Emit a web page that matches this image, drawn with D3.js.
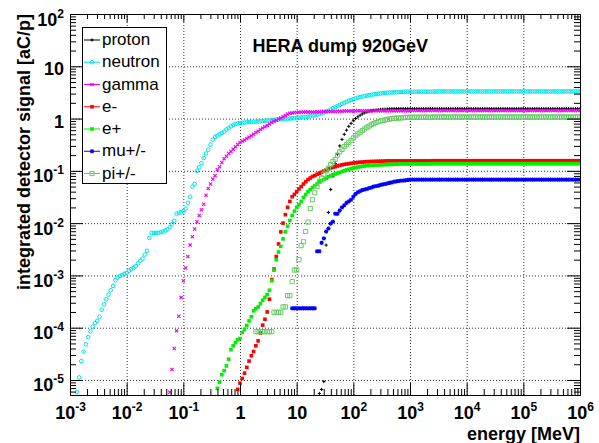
<!DOCTYPE html>
<html>
<head>
<meta charset="utf-8">
<script src="https://cdn.jsdelivr.net/npm/d3@7"></script>
<style>
  body { margin: 0; background: #ffffff; }
  #chart svg { display: block; font-family: "Liberation Sans", Arial, Helvetica, sans-serif; }
</style>
</head>
<body>
<div id="chart"></div>
<script>
// energy bins [MeV], 25 per decade
const energyMeV = [
  1.000e-3,1.096e-3,1.202e-3,1.318e-3,1.445e-3,1.585e-3,1.738e-3,1.905e-3,2.089e-3,2.291e-3,2.512e-3,2.754e-3,3.020e-3,3.311e-3,3.631e-3,3.981e-3,4.365e-3,4.786e-3,5.248e-3,5.754e-3,6.310e-3,6.918e-3,7.586e-3,8.318e-3,9.120e-3,
  1.000e-2,1.096e-2,1.202e-2,1.318e-2,1.445e-2,1.585e-2,1.738e-2,1.905e-2,2.089e-2,2.291e-2,2.512e-2,2.754e-2,3.020e-2,3.311e-2,3.631e-2,3.981e-2,4.365e-2,4.786e-2,5.248e-2,5.754e-2,6.310e-2,6.918e-2,7.586e-2,8.318e-2,9.120e-2,
  1.000e-1,1.096e-1,1.202e-1,1.318e-1,1.445e-1,1.585e-1,1.738e-1,1.905e-1,2.089e-1,2.291e-1,2.512e-1,2.754e-1,3.020e-1,3.311e-1,3.631e-1,3.981e-1,4.365e-1,4.786e-1,5.248e-1,5.754e-1,6.310e-1,6.918e-1,7.586e-1,8.318e-1,9.120e-1,
  1.000e0,1.096e0,1.202e0,1.318e0,1.445e0,1.585e0,1.738e0,1.905e0,2.089e0,2.291e0,2.512e0,2.754e0,3.020e0,3.311e0,3.631e0,3.981e0,4.365e0,4.786e0,5.248e0,5.754e0,6.310e0,6.918e0,7.586e0,8.318e0,9.120e0,
  1.000e1,1.096e1,1.202e1,1.318e1,1.445e1,1.585e1,1.738e1,1.905e1,2.089e1,2.291e1,2.512e1,2.754e1,3.020e1,3.311e1,3.631e1,3.981e1,4.365e1,4.786e1,5.248e1,5.754e1,6.310e1,6.918e1,7.586e1,8.318e1,9.120e1,
  1.000e2,1.096e2,1.202e2,1.318e2,1.445e2,1.585e2,1.738e2,1.905e2,2.089e2,2.291e2,2.512e2,2.754e2,3.020e2,3.311e2,3.631e2,3.981e2,4.365e2,4.786e2,5.248e2,5.754e2,6.310e2,6.918e2,7.586e2,8.318e2,9.120e2,
  1.000e3,1.096e3,1.202e3,1.318e3,1.445e3,1.585e3,1.738e3,1.905e3,2.089e3,2.291e3,2.512e3,2.754e3,3.020e3,3.311e3,3.631e3,3.981e3,4.365e3,4.786e3,5.248e3,5.754e3,6.310e3,6.918e3,7.586e3,8.318e3,9.120e3,
  1.000e4,1.096e4,1.202e4,1.318e4,1.445e4,1.585e4,1.738e4,1.905e4,2.089e4,2.291e4,2.512e4,2.754e4,3.020e4,3.311e4,3.631e4,3.981e4,4.365e4,4.786e4,5.248e4,5.754e4,6.310e4,6.918e4,7.586e4,8.318e4,9.120e4,
  1.000e5,1.096e5,1.202e5,1.318e5,1.445e5,1.585e5,1.738e5,1.905e5,2.089e5,2.291e5,2.512e5,2.754e5,3.020e5,3.311e5,3.631e5,3.981e5,4.365e5,4.786e5,5.248e5,5.754e5,6.310e5,6.918e5,7.586e5,8.318e5,9.120e5,
  1.000e6
];

// integrated detector signal [aC/p]; the first value of each list sits at energyMeV[start]
const protonStart = 110;
const proton = [
  5.5e-6, 6.6e-6, 9.3e-6, 3.8e-3, 1.6e-2, 4.4e-2, 7.9e-2, 0.138, 0.21, 0.30,
  0.40, 0.50, 0.60, 0.71, 0.81, 0.91, 1.0, 1.08, 1.16, 1.23,
  1.29, 1.33, 1.38, 1.41, 1.44, 1.46, 1.48, 1.50, 1.51, 1.51,
  1.52, 1.53, 1.54, 1.55, 1.55, 1.55, 1.55, 1.55, 1.55, 1.55,
  1.55, 1.55, 1.55, 1.55, 1.55, 1.55, 1.55, 1.55, 1.55, 1.55,
  1.55, 1.55, 1.55, 1.55, 1.55, 1.55, 1.55, 1.55, 1.55, 1.55,
  1.55, 1.55, 1.55, 1.55, 1.55, 1.55, 1.55, 1.55, 1.55, 1.55,
  1.55, 1.55, 1.55, 1.55, 1.55, 1.55, 1.55, 1.55, 1.55, 1.55,
  1.55, 1.55, 1.55, 1.55, 1.55, 1.55, 1.55, 1.55, 1.55, 1.55,
  1.55, 1.55, 1.55, 1.55, 1.55, 1.55, 1.55, 1.55, 1.55, 1.55,
  1.55, 1.55, 1.55, 1.55, 1.55, 1.55, 1.55, 1.55, 1.55, 1.55,
  1.55, 1.55, 1.55, 1.55, 1.55, 1.55
];

const neutronStart = 3;
const neutron = [
  5.9e-6, 1.12e-5, 2.3e-5, 3.5e-5, 4.8e-5, 6.6e-5, 8.5e-5,
  1.05e-4, 1.23e-4, 1.35e-4, 1.62e-4, 2.2e-4, 2.8e-4, 3.5e-4, 4.3e-4, 5.2e-4, 6.3e-4,
  8.1e-4, 9.1e-4, 9.8e-4, 1.02e-3, 1.07e-3, 1.12e-3, 1.23e-3, 1.32e-3, 1.38e-3, 1.51e-3,
  1.70e-3, 1.91e-3, 2.1e-3, 2.5e-3, 2.95e-3, 5.2e-3, 6.5e-3, 6.5e-3, 6.5e-3, 6.5e-3,
  6.7e-3, 6.9e-3, 7.2e-3, 7.6e-3, 8.3e-3, 9.5e-3, 1.1e-2, 1.51e-2, 1.58e-2, 1.62e-2,
  1.70e-2, 1.9e-2, 2.45e-2, 3.2e-2, 5.0e-2, 5.6e-2, 0.10, 0.117, 0.141, 0.176,
  0.214, 0.254, 0.316, 0.394, 0.447, 0.468, 0.50, 0.53, 0.56, 0.62,
  0.66, 0.71, 0.75, 0.79, 0.81, 0.82, 0.83, 0.84, 0.85, 0.86,
  0.867, 0.87, 0.877, 0.88, 0.887, 0.90, 0.91, 0.917, 0.92, 0.93,
  0.94, 0.955, 0.96, 0.97, 0.98, 0.985, 0.99, 1.0, 1.01, 1.02,
  1.02, 1.035, 1.05, 1.06, 1.07, 1.09, 1.11, 1.135, 1.16, 1.19,
  1.23, 1.26, 1.30, 1.35, 1.41, 1.48, 1.58, 1.65, 1.73, 1.82,
  1.91, 2.0, 2.09, 2.19, 2.26, 2.34, 2.43, 2.51, 2.57, 2.63,
  2.69, 2.75, 2.8, 2.85, 2.9, 2.94, 2.98, 3.02, 3.05, 3.09,
  3.12, 3.14, 3.16, 3.18, 3.2, 3.22, 3.24, 3.25, 3.26, 3.27,
  3.27, 3.27, 3.27, 3.27, 3.27, 3.27, 3.27, 3.27, 3.27, 3.27,
  3.28, 3.28, 3.29, 3.29, 3.3, 3.3, 3.3, 3.3, 3.3, 3.3,
  3.3, 3.3, 3.3, 3.3, 3.3, 3.3, 3.3, 3.3, 3.3, 3.3,
  3.3, 3.3, 3.3, 3.3, 3.3, 3.3, 3.3, 3.3, 3.3, 3.3,
  3.3, 3.3, 3.3, 3.3, 3.3, 3.3, 3.3, 3.3, 3.3, 3.3,
  3.3, 3.3, 3.3, 3.3, 3.3, 3.3, 3.3, 3.3, 3.3, 3.3,
  3.3, 3.3, 3.3, 3.3, 3.3, 3.3, 3.3, 3.3, 3.3, 3.3,
  3.3, 3.3, 3.3, 3.3, 3.3, 3.3
];

const gammaStart = 44;
const gamma = [
  5.8e-6, 1.58e-5, 4.0e-5, 8.7e-5, 1.66e-4, 3.8e-4,
  7.9e-4, 1.39e-3, 2.3e-3, 3.8e-3, 5.5e-3, 7.7e-3, 1.06e-2, 1.4e-2, 1.8e-2, 2.3e-2,
  3.4e-2, 4.6e-2, 5.6e-2, 6.9e-2, 8.1e-2, 0.105, 0.12, 0.145, 0.17, 0.19,
  0.214, 0.234, 0.26, 0.29, 0.32, 0.347, 0.37, 0.39, 0.417, 0.44,
  0.47, 0.50, 0.54, 0.575, 0.62, 0.66, 0.70, 0.74, 0.79, 0.84,
  0.89, 0.93, 0.98, 1.02, 1.08, 1.15, 1.22, 1.26, 1.28, 1.30,
  1.31, 1.32, 1.32, 1.33, 1.33, 1.33, 1.34, 1.34, 1.34, 1.35,
  1.35, 1.35, 1.36, 1.36, 1.36, 1.37, 1.37, 1.37, 1.38, 1.38,
  1.38, 1.39, 1.39, 1.39, 1.40, 1.40, 1.41, 1.41, 1.41, 1.41,
  1.41, 1.41, 1.41, 1.41, 1.41, 1.41, 1.41, 1.41, 1.41, 1.41,
  1.41, 1.41, 1.41, 1.41, 1.41, 1.41, 1.41, 1.41, 1.41, 1.41,
  1.42, 1.42, 1.42, 1.42, 1.42, 1.42, 1.42, 1.42, 1.42, 1.42,
  1.42, 1.42, 1.42, 1.42, 1.42, 1.42, 1.42, 1.42, 1.42, 1.42,
  1.42, 1.42, 1.42, 1.42, 1.42, 1.42, 1.42, 1.42, 1.42, 1.42,
  1.42, 1.42, 1.42, 1.42, 1.42, 1.42, 1.42, 1.42, 1.42, 1.42,
  1.42, 1.42, 1.42, 1.42, 1.42, 1.42, 1.42, 1.42, 1.42, 1.42,
  1.42, 1.42, 1.42, 1.42, 1.42, 1.42, 1.42, 1.42, 1.42, 1.42,
  1.42, 1.42, 1.42, 1.42, 1.42, 1.42, 1.42, 1.42, 1.42, 1.42,
  1.42, 1.42, 1.42, 1.42, 1.42, 1.42
];

const electronStart = 74;
const electron = [
  6.6e-6, 8.7e-6, 1.07e-5, 1.35e-5, 1.74e-5, 2.3e-5,
  2.9e-5, 3.5e-5, 4.5e-5, 5.6e-5, 7.9e-5, 1.12e-4, 1.45e-4, 2.0e-4, 3.5e-4, 8.3e-4,
  1.32e-3, 2.3e-3, 4.0e-3, 6.8e-3, 1.0e-2, 1.45e-2, 2.0e-2, 2.6e-2, 3.2e-2, 3.55e-2,
  4.0e-2, 4.5e-2, 5.0e-2, 5.6e-2, 6.2e-2, 6.8e-2, 7.3e-2, 7.8e-2, 8.1e-2, 8.6e-2,
  9.0e-2, 9.4e-2, 9.9e-2, 0.104, 0.108, 0.114, 0.117, 0.12, 0.124, 0.127,
  0.13, 0.133, 0.135, 0.137, 0.139, 0.141, 0.143, 0.145, 0.146, 0.147,
  0.149, 0.15, 0.15, 0.151, 0.151, 0.152, 0.152, 0.153, 0.153, 0.154,
  0.155, 0.155, 0.155, 0.155, 0.155, 0.155, 0.155, 0.155, 0.155, 0.155,
  0.155, 0.155, 0.155, 0.155, 0.155, 0.155, 0.155, 0.155, 0.155, 0.155,
  0.156, 0.156, 0.156, 0.156, 0.156, 0.156, 0.156, 0.156, 0.156, 0.156,
  0.156, 0.156, 0.156, 0.156, 0.156, 0.156, 0.156, 0.156, 0.156, 0.156,
  0.156, 0.156, 0.156, 0.156, 0.156, 0.156, 0.156, 0.156, 0.156, 0.156,
  0.156, 0.156, 0.156, 0.156, 0.156, 0.156, 0.156, 0.156, 0.156, 0.156,
  0.156, 0.156, 0.156, 0.156, 0.156, 0.156, 0.156, 0.156, 0.156, 0.156,
  0.156, 0.156, 0.156, 0.156, 0.156, 0.156, 0.156, 0.156, 0.156, 0.156,
  0.156, 0.156, 0.156, 0.156, 0.156, 0.156
];

const positronStart = 65;
const positron = [
  6.9e-6, 9.1e-6, 1.26e-5, 1.51e-5, 1.86e-5,
  2.5e-5, 3.8e-5, 4.5e-5, 5.2e-5, 5.9e-5, 6.2e-5, 8.1e-5, 9.3e-5, 1.1e-4, 1.35e-4,
  1.62e-4, 2.1e-4, 2.3e-4, 2.5e-4, 2.9e-4, 3.35e-4, 3.8e-4, 4.3e-4, 5.2e-4, 7.9e-4,
  1.26e-3, 2.0e-3, 2.8e-3, 3.6e-3, 5.0e-3, 6.8e-3, 8.7e-3, 1.12e-2, 1.41e-2, 1.7e-2,
  2.0e-2, 2.24e-2, 2.6e-2, 3.1e-2, 3.5e-2, 4.0e-2, 4.4e-2, 4.8e-2, 5.2e-2, 5.6e-2,
  6.2e-2, 6.5e-2, 6.8e-2, 7.2e-2, 7.7e-2, 8.0e-2, 8.4e-2, 8.7e-2, 9.0e-2, 9.3e-2,
  9.7e-2, 0.10, 0.104, 0.107, 0.11, 0.113, 0.116, 0.118, 0.12, 0.122,
  0.124, 0.126, 0.127, 0.128, 0.128, 0.129, 0.129, 0.130, 0.131, 0.132,
  0.132, 0.133, 0.133, 0.134, 0.134, 0.135, 0.136, 0.136, 0.136, 0.136,
  0.136, 0.136, 0.136, 0.136, 0.136, 0.136, 0.136, 0.136, 0.136, 0.136,
  0.137, 0.137, 0.137, 0.137, 0.137, 0.137, 0.137, 0.137, 0.137, 0.137,
  0.137, 0.137, 0.137, 0.137, 0.137, 0.137, 0.137, 0.137, 0.137, 0.137,
  0.137, 0.137, 0.137, 0.137, 0.137, 0.137, 0.137, 0.137, 0.137, 0.137,
  0.137, 0.137, 0.137, 0.137, 0.137, 0.137, 0.137, 0.137, 0.137, 0.137,
  0.137, 0.137, 0.137, 0.137, 0.137, 0.137, 0.137, 0.137, 0.137, 0.137,
  0.137, 0.137, 0.137, 0.137, 0.137, 0.137, 0.137, 0.137, 0.137, 0.137,
  0.137, 0.137, 0.137, 0.137, 0.137, 0.137
];

const muonStart = 98;
const muon = [
  2.35e-4, 2.35e-4,
  2.35e-4, 2.35e-4, 2.35e-4, 2.35e-4, 2.35e-4, 2.35e-4, 2.35e-4, 2.35e-4, 2.35e-4, 2.9e-3,
  2.9e-3, 4.2e-3, 5.1e-3, 6.9e-3, 7.9e-3, 9.8e-3, 1.07e-2, 1.51e-2, 1.51e-2, 1.74e-2,
  2.0e-2, 2.2e-2, 2.45e-2, 2.6e-2, 2.8e-2, 3.2e-2, 3.6e-2, 3.9e-2, 4.1e-2, 4.3e-2,
  4.4e-2, 4.5e-2, 4.7e-2, 4.8e-2, 5.0e-2, 5.1e-2, 5.2e-2, 5.4e-2, 5.5e-2, 5.6e-2,
  5.75e-2, 5.9e-2, 6.0e-2, 6.2e-2, 6.3e-2, 6.4e-2, 6.5e-2, 6.5e-2, 6.6e-2, 6.7e-2,
  6.8e-2, 6.8e-2, 6.8e-2, 6.8e-2, 6.8e-2, 6.8e-2, 6.8e-2, 6.8e-2, 6.8e-2, 6.8e-2,
  6.8e-2, 6.8e-2, 6.8e-2, 6.8e-2, 6.8e-2, 6.8e-2, 6.8e-2, 6.8e-2, 6.8e-2, 6.8e-2,
  6.8e-2, 6.8e-2, 6.8e-2, 6.8e-2, 6.8e-2, 6.8e-2, 6.8e-2, 6.8e-2, 6.8e-2, 6.8e-2,
  6.8e-2, 6.8e-2, 6.8e-2, 6.8e-2, 6.8e-2, 6.8e-2, 6.8e-2, 6.8e-2, 6.8e-2, 6.8e-2,
  6.8e-2, 6.8e-2, 6.8e-2, 6.8e-2, 6.8e-2, 6.8e-2, 6.8e-2, 6.8e-2, 6.8e-2, 6.8e-2,
  6.8e-2, 6.8e-2, 6.8e-2, 6.8e-2, 6.8e-2, 6.8e-2, 6.8e-2, 6.8e-2, 6.8e-2, 6.8e-2,
  6.8e-2, 6.8e-2, 6.8e-2, 6.8e-2, 6.8e-2, 6.8e-2, 6.8e-2, 6.8e-2, 6.8e-2, 6.8e-2,
  6.8e-2, 6.8e-2, 6.8e-2, 6.8e-2, 6.8e-2, 6.8e-2
];

const pionStart = 82;
const pion = [
  8.4e-5, 8.4e-5, 8.4e-5, 8.4e-5, 8.4e-5, 8.4e-5, 8.4e-5, 8.4e-5,
  1.97e-4, 1.97e-4, 1.97e-4, 1.97e-4, 2.5e-4, 2.5e-4, 4.1e-4, 4.1e-4, 7.6e-4, 1.27e-3,
  1.27e-3, 2.0e-3, 3.7e-3, 4.4e-3, 6.9e-3, 1.05e-2, 1.9e-2, 2.8e-2, 3.8e-2, 5.0e-2,
  6.3e-2, 7.2e-2, 8.7e-2, 0.10, 0.113, 0.132, 0.151, 0.166, 0.20, 0.23,
  0.257, 0.29, 0.316, 0.35, 0.38, 0.427, 0.47, 0.51, 0.55, 0.59,
  0.63, 0.68, 0.72, 0.77, 0.80, 0.84, 0.87, 0.90, 0.92, 0.94,
  0.965, 0.98, 1.0, 1.01, 1.02, 1.02, 1.03, 1.04, 1.05, 1.05,
  1.06, 1.06, 1.06, 1.06, 1.06, 1.06, 1.06, 1.06, 1.06, 1.06,
  1.07, 1.07, 1.07, 1.07, 1.07, 1.07, 1.07, 1.07, 1.07, 1.07,
  1.07, 1.07, 1.07, 1.07, 1.07, 1.07, 1.07, 1.07, 1.07, 1.07,
  1.07, 1.07, 1.07, 1.07, 1.07, 1.07, 1.07, 1.07, 1.07, 1.07,
  1.07, 1.07, 1.07, 1.07, 1.07, 1.07, 1.07, 1.07, 1.07, 1.07,
  1.07, 1.07, 1.07, 1.07, 1.07, 1.07, 1.07, 1.07, 1.07, 1.07,
  1.07, 1.07, 1.07, 1.07, 1.07, 1.07, 1.07, 1.07, 1.07, 1.07,
  1.07, 1.07, 1.07, 1.07, 1.07, 1.07
];

const seriesNames = ["proton", "neutron", "gamma", "e-", "e+", "mu+/-", "pi+/-"];
const xTickExp = [-3, -2, -1, 0, 1, 2, 3, 4, 5, 6];
const yTickExp = [-5, -4, -3, -2, -1, 0, 1, 2];
const yMin = 5.16e-6, yMax = 1e2;

// ---------------------------------------------------------------
const W = 599, H = 443;
const frame = {left: 70, right: 580, top: 14, bottom: 395};

const svg = d3.select("#chart").append("svg")
    .attr("width", W)
    .attr("height", H);
svg.append("rect").attr("width", W).attr("height", H).attr("fill", "#ffffff");

const x = d3.scaleLog().domain([1e-3, 1e6]).range([frame.left, frame.right]);
const y = d3.scaleLog().domain([yMin, yMax]).range([frame.bottom, frame.top]);

const isDecade = v => Math.abs(Math.log10(v) - Math.round(Math.log10(v))) < 1e-6;
const xMajor = x.ticks().filter(isDecade), xMinor = x.ticks().filter(v => !isDecade(v));
const yMajor = y.ticks().filter(isDecade), yMinor = y.ticks().filter(v => !isDecade(v));

// dotted grid on the decades
svg.append("g")
    .attr("transform", "translate(0," + frame.bottom + ")")
    .call(d3.axisBottom(x)
        .tickValues(xMajor.filter(v => x(v) > frame.left + 1 && x(v) < frame.right - 1))
        .tickSize(-(frame.bottom - frame.top)).tickFormat(""))
    .call(g => g.select(".domain").remove())
    .selectAll("line").attr("stroke", "#333").attr("stroke-dasharray", "1,2");
svg.append("g")
    .attr("transform", "translate(" + frame.left + ",0)")
    .call(d3.axisLeft(y)
        .tickValues(yMajor.filter(v => y(v) > frame.top + 1 && y(v) < frame.bottom - 1))
        .tickSize(-(frame.right - frame.left)).tickFormat(""))
    .call(g => g.select(".domain").remove())
    .selectAll("line").attr("stroke", "#333").attr("stroke-dasharray", "1,2");

// markers
const mCircle = { draw(c, s) { const r = Math.sqrt(s); c.moveTo(r, 0); c.arc(0, 0, r, 0, 2 * Math.PI); } };
const mSquare = { draw(c, s) { const r = Math.sqrt(s); c.rect(-r, -r, 2 * r, 2 * r); } };
const mPlus = { draw(c, s) { const r = Math.sqrt(s); c.moveTo(-r, 0); c.lineTo(r, 0); c.moveTo(0, -r); c.lineTo(0, r); } };
const mStar = { draw(c, s) {
    const r = Math.sqrt(s), d = r * 0.75;
    c.moveTo(-r, 0); c.lineTo(r, 0); c.moveTo(0, -r); c.lineTo(0, r);
    c.moveTo(-d, -d); c.lineTo(d, d); c.moveTo(-d, d); c.lineTo(d, -d);
} };
const mTimes = { draw(c, s) { const r = Math.sqrt(s); c.moveTo(-r, -r); c.lineTo(r, r); c.moveTo(-r, r); c.lineTo(r, -r); } };

const series = [
    {start: protonStart,   values: proton,   color: "#000000", type: mPlus,   size: 2.6, fill: false, sw: 1},
    {start: neutronStart,  values: neutron,  color: "#00e4e4", type: mCircle, size: 3.3, fill: false, sw: 1},
    {start: gammaStart,    values: gamma,    color: "#f000f0", type: mTimes,  size: 2.6, fill: false, sw: 1.1},
    {start: electronStart, values: electron, color: "#ff0000", type: mSquare, size: 3.3, fill: true,  sw: 0},
    {start: positronStart, values: positron, color: "#00ee00", type: mSquare, size: 3.3, fill: true,  sw: 0},
    {start: muonStart,     values: muon,     color: "#0000ff", type: mStar,   size: 4.4, fill: false, sw: 1.1},
    {start: pionStart,     values: pion,     color: "#66cc66", type: mSquare, size: 4.4, fill: false, sw: 1}
];
series.forEach((s, i) => s.name = seriesNames[i]);

svg.append("defs").append("clipPath").attr("id", "frame-clip")
    .append("rect")
    .attr("x", frame.left).attr("y", frame.top)
    .attr("width", frame.right - frame.left + 1).attr("height", frame.bottom - frame.top + 1);

const plot = svg.append("g").attr("clip-path", "url(#frame-clip)");
series.forEach(function(s) {
    const pts = s.values
        .map((v, i) => ({e: energyMeV[s.start + i], v: v}))
        .filter(d => d.e !== undefined && d.v >= yMin);
    plot.append("g").selectAll("path")
        .data(pts)
        .join("path")
        .attr("transform", d => "translate(" + x(d.e) + "," + y(d.v) + ")")
        .attr("d", d3.symbol().type(s.type).size(s.size))
        .attr("fill", s.fill ? s.color : "none")
        .attr("stroke", s.fill ? "none" : s.color)
        .attr("stroke-width", s.sw);
});

// ticks on all four sides, pointing inwards
function tickRow(axis, values, len, transform) {
    svg.append("g")
        .attr("transform", transform)
        .call(axis.tickValues(values).tickSize(len).tickFormat(""))
        .call(g => g.select(".domain").remove())
        .call(g => g.selectAll("text").remove())
        .selectAll("line").attr("stroke", "#000");
}
tickRow(d3.axisBottom(x), xMajor, -12, "translate(0," + frame.bottom + ")");
tickRow(d3.axisBottom(x), xMinor, -6, "translate(0," + frame.bottom + ")");
tickRow(d3.axisTop(x), xMajor, -8, "translate(0," + frame.top + ")");
tickRow(d3.axisTop(x), xMinor, -5, "translate(0," + frame.top + ")");
tickRow(d3.axisLeft(y), yMajor, -13, "translate(" + frame.left + ",0)");
tickRow(d3.axisLeft(y), yMinor, -6, "translate(" + frame.left + ",0)");
tickRow(d3.axisRight(y), yMajor, -13, "translate(" + frame.right + ",0)");
tickRow(d3.axisRight(y), yMinor, -6, "translate(" + frame.right + ",0)");

svg.append("rect")
    .attr("x", frame.left + 0.5).attr("y", frame.top + 0.5)
    .attr("width", frame.right - frame.left).attr("height", frame.bottom - frame.top)
    .attr("fill", "none").attr("stroke", "#000").attr("stroke-width", 1);

// tick labels like 10^n
function powerText(sel, n) {
    if (n === 0) { sel.text("1"); return; }
    if (n === 1) { sel.text("10"); return; }
    sel.append("tspan").text("10");
    sel.append("tspan").attr("dy", -8).attr("font-size", 12).text(n);
}
xTickExp.forEach(function(n) {
    svg.append("text")
        .attr("x", x(Math.pow(10, n)) + 0.5)
        .attr("y", 419)
        .attr("text-anchor", "middle")
        .attr("font-size", 18).attr("font-weight", "bold")
        .call(powerText, n);
});
yTickExp.forEach(function(n) {
    svg.append("text")
        .attr("x", 64)
        .attr("y", y(Math.pow(10, n)) + (n === 0 || n === 1 ? 9 : 11.5))
        .attr("text-anchor", "end")
        .attr("font-size", 18).attr("font-weight", "bold")
        .call(powerText, n);
});

// axis titles and plot title
svg.append("text")
    .attr("x", frame.right).attr("y", 440)
    .attr("text-anchor", "end")
    .attr("font-size", 18).attr("font-weight", "bold")
    .text("energy [MeV]");
svg.append("text")
    .attr("transform", "translate(30,14) rotate(-90)")
    .attr("text-anchor", "end")
    .attr("font-size", 18).attr("font-weight", "bold")
    .text("integrated detector signal [aC/p]");
svg.append("text")
    .attr("x", 428).attr("y", 52)
    .attr("text-anchor", "end")
    .attr("font-size", 18).attr("font-weight", "bold")
    .text("HERA dump 920GeV");

// legend
const legend = svg.append("g");
legend.append("rect")
    .attr("x", 82.5).attr("y", 27.5).attr("width", 84).attr("height", 156)
    .attr("fill", "#fff").attr("stroke", "#000");
series.forEach(function(s, i) {
    const ly = 40 + i * 22.25;
    legend.append("line")
        .attr("x1", 84).attr("x2", 100).attr("y1", ly).attr("y2", ly)
        .attr("stroke", s.color).attr("stroke-width", 1);
    legend.append("path")
        .attr("transform", "translate(92," + ly + ")")
        .attr("d", d3.symbol().type(s.type).size(s.size))
        .attr("fill", s.fill ? s.color : "none")
        .attr("stroke", s.fill ? "none" : s.color)
        .attr("stroke-width", s.sw);
    legend.append("text")
        .attr("x", 102).attr("y", ly + 5)
        .attr("font-size", 17)
        .text(s.name);
});
</script>
</body>
</html>
